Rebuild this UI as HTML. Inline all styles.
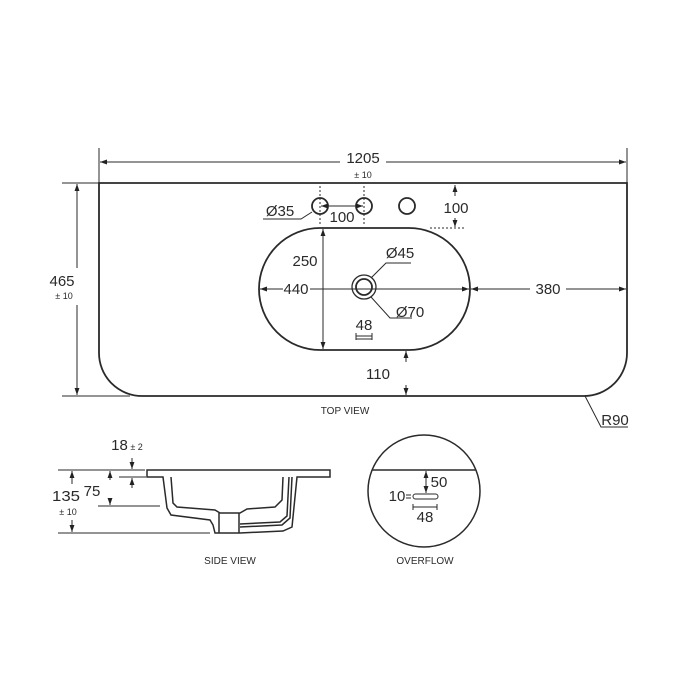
<!DOCTYPE html>
<html><head><style>
html,body{margin:0;padding:0;background:#fff}
svg{display:block}
text{font-family:"Liberation Sans",sans-serif;fill:#2a2a2a}
</style></head><body>
<svg width="700" height="700" viewBox="0 0 700 700" xmlns="http://www.w3.org/2000/svg">
<defs>
<marker id="a" viewBox="0 0 10 10" refX="10" refY="5" markerWidth="7" markerHeight="7" orient="auto-start-reverse" markerUnits="userSpaceOnUse"><path d="M0,1.5 L10,5 L0,8.5z" fill="#222"/></marker>
</defs>
<g stroke="#2a2a2a" fill="none" stroke-width="1.8">
<path d="M99,183 H627 V353 A43,43 0 0 1 584,396 H142 A43,43 0 0 1 99,353 Z"/>
<path d="M320,228 H409 A61,61 0 0 1 409,350 H320 A61,61 0 0 1 320,228 Z"/>
<circle cx="364" cy="287" r="8"/><circle cx="364" cy="287" r="12" stroke-width="1.3"/>
<circle cx="320" cy="206" r="8"/><circle cx="364" cy="206" r="8"/><circle cx="407" cy="206" r="8"/>
</g>
<g stroke="#2a2a2a" fill="none" stroke-width="1">
<line x1="99" y1="148" x2="99" y2="183"/><line x1="627" y1="148" x2="627" y2="183"/>
<line x1="100" y1="162" x2="340" y2="162" marker-start="url(#a)"/>
<line x1="386" y1="162" x2="626" y2="162" marker-end="url(#a)"/>
<line x1="62" y1="183" x2="99" y2="183"/><line x1="62" y1="396" x2="130" y2="396"/>
<line x1="77" y1="184" x2="77" y2="268" marker-start="url(#a)"/>
<line x1="77" y1="305" x2="77" y2="395" marker-end="url(#a)"/>
<line x1="320" y1="186" x2="320" y2="226" stroke-dasharray="2,2"/>
<line x1="364" y1="186" x2="364" y2="226" stroke-dasharray="2,2"/>
<line x1="321" y1="206" x2="363" y2="206" marker-start="url(#a)" marker-end="url(#a)"/>
<line x1="430" y1="228" x2="466" y2="228" stroke-dasharray="2,2"/>
<line x1="455" y1="185" x2="455" y2="196" marker-start="url(#a)"/>
<line x1="455" y1="218" x2="455" y2="227" marker-end="url(#a)"/>
<path d="M312,212 L301,219 H263"/>
<line x1="323" y1="229" x2="323" y2="349" marker-start="url(#a)" marker-end="url(#a)"/>
<line x1="260" y1="289" x2="283" y2="289" marker-start="url(#a)"/>
<line x1="310" y1="289" x2="469" y2="289" marker-end="url(#a)"/>
<line x1="471" y1="289" x2="530" y2="289" marker-start="url(#a)"/>
<line x1="566" y1="289" x2="626" y2="289" marker-end="url(#a)"/>
<path d="M371,278 L386,263 H411"/>
<path d="M371,297 L390,318 H412"/>
<path d="M356,333 V340 M372,333 V340 M356,336 H372 M356,339 H372"/>
<line x1="406" y1="351" x2="406" y2="362" marker-start="url(#a)"/>
<line x1="406" y1="385" x2="406" y2="395" marker-end="url(#a)"/>
<path d="M585,396 L601,427 H628"/>
<line x1="58" y1="470" x2="145" y2="470"/>
<line x1="98" y1="506" x2="160" y2="506"/>
<line x1="58" y1="533" x2="210" y2="533"/>
<line x1="119" y1="477" x2="146" y2="477"/>
<line x1="72" y1="471" x2="72" y2="484" marker-start="url(#a)"/>
<line x1="72" y1="520" x2="72" y2="532" marker-end="url(#a)"/>
<line x1="110" y1="471" x2="110" y2="480" marker-start="url(#a)"/>
<line x1="110" y1="498" x2="110" y2="505" marker-end="url(#a)"/>
<line x1="132" y1="458" x2="132" y2="469" marker-end="url(#a)"/>
<line x1="132" y1="488" x2="132" y2="478" marker-end="url(#a)"/>
<line x1="426" y1="471" x2="426" y2="493" marker-start="url(#a)" marker-end="url(#a)"/>
<rect x="413" y="494" width="25" height="5" rx="2.5"/>
<path d="M406,495 H411 M406,498 H411"/>
<line x1="413" y1="507" x2="437" y2="507"/><path d="M413,504 V510 M437,504 V510"/>
</g>
<g stroke="#2a2a2a" fill="none" stroke-width="1.5">
<path d="M147,470 H330 V477 H297 L292,527 L283,531 L240,533 H219 L215,533 L213,525 L210,520 L171,515 L167,508 L163,477 H147 Z"/>
<path d="M171,477 L173,503 L177,507 L215,510 L220,513 H240 L247,509 L275,507 L282,500 L283,477"/>
<path d="M219,513 V533 M239,513 V533"/>
<path d="M240,524 L280,522 L287,516 L289,477"/>
<path d="M240,527 L282,525 L290,518 L292,477"/>
<circle cx="424" cy="491" r="56"/>
<line x1="372" y1="470" x2="476" y2="470"/>
</g>
<g font-size="15" text-anchor="middle">
<text x="363" y="163">1205</text>
<text x="363" y="178" font-size="9">± 10</text>
<text x="62" y="286">465</text>
<text x="64" y="299" font-size="9">± 10</text>
<text x="280" y="216">Ø35</text>
<text x="342" y="222">100</text>
<text x="456" y="213">100</text>
<text x="305" y="266">250</text>
<text x="296" y="294">440</text>
<text x="548" y="294">380</text>
<text x="400" y="258">Ø45</text>
<text x="410" y="317">Ø70</text>
<text x="364" y="330">48</text>
<text x="378" y="379">110</text>
<text x="345" y="414" font-size="10">TOP VIEW</text>
<text x="615" y="425">R90</text>
<text x="127" y="450">18<tspan font-size="9"> ± 2</tspan></text>
<text x="66" y="501" textLength="28" lengthAdjust="spacingAndGlyphs">135</text>
<text x="68" y="515" font-size="9">± 10</text>
<text x="92" y="496">75</text>
<text x="230" y="564" font-size="10">SIDE VIEW</text>
<text x="425" y="564" font-size="10">OVERFLOW</text>
<text x="439" y="487">50</text>
<text x="397" y="501">10</text>
<text x="425" y="522">48</text>
</g>
</svg>
</body></html>
